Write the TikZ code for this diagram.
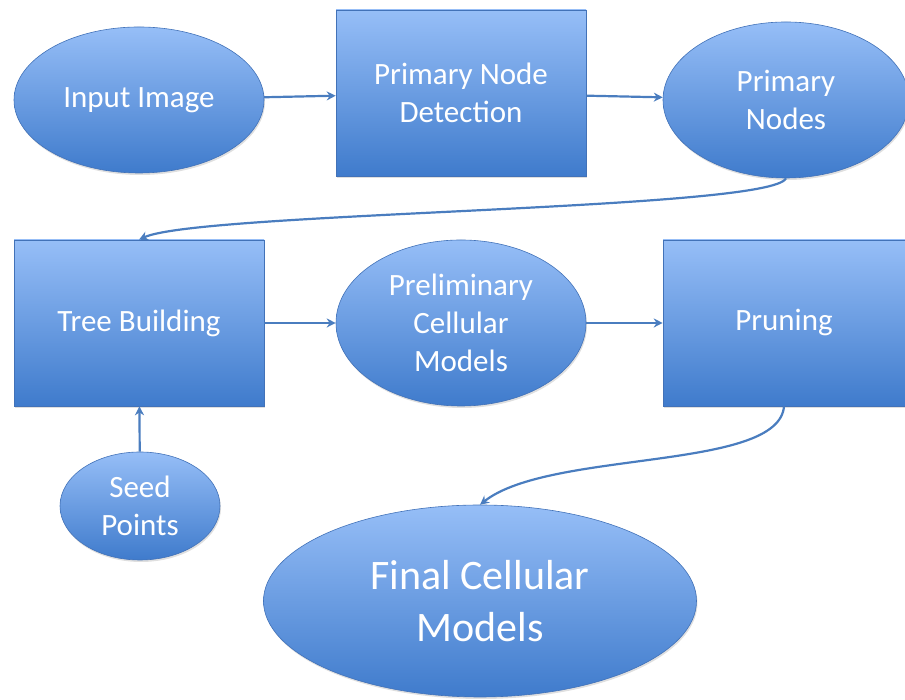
\documentclass[tikz,border=0pt]{standalone}
\usepackage{fontspec}
\setmainfont{Carlito}
\usepackage{xcolor}
\usepackage{tikz}
\usetikzlibrary{shapes.geometric, arrows.meta, positioning, shadows}
\definecolor{flowtop}{HTML}{96BEF7}
\definecolor{flowbottom}{HTML}{3F7BCC}
\definecolor{flowedge}{HTML}{4272B8}
\definecolor{arrowblue}{HTML}{4A7DBF}

\tikzset{
    flowbase/.style={draw=flowedge, line width=0.6pt, top color=flowtop, bottom color=flowbottom,
        text=white, align=center, inner sep=0pt, font=\fontsize{31}{38}\selectfont,
        drop shadow={opacity=0.25, shadow xshift=1pt, shadow yshift=-2pt}},
    procbox/.style={flowbase, rectangle, minimum width=250, minimum height=166},
    dataoval/.style={flowbase, ellipse, minimum width=250, minimum height=146},
    flowarrow/.style={-{Stealth[length=9pt, width=9pt]}, line width=2.2pt, arrowblue}
}

\begin{document}
\begin{tikzpicture}[x=1pt, y=1pt]
    \useasboundingbox (0, 0) rectangle (905, 700);

    % Top row
    \node[dataoval] (input) at (139, 600) {Input Image};
    \node[procbox] (detect) at (461, 607) {Primary Node\\Detection};
    \node[dataoval, minimum width=246, minimum height=156] (pnodes) at (786, 600) {Primary\\Nodes};

    % Middle row
    \node[procbox] (tree) at (139, 377) {Tree Building};
    \node[dataoval, minimum width=250, minimum height=166] (prelim) at (461, 377) {Preliminary\\Cellular\\Models};
    \node[procbox, minimum width=242] (prune) at (784, 377) {Pruning};

    % Bottom
    \node[dataoval, minimum width=160, minimum height=108] (seed) at (140, 194) {Seed\\Points};
    \node[dataoval, minimum width=433, minimum height=192, font=\fontsize{42}{52}\selectfont] (final) at (480, 99) {Final Cellular\\Models};

    % Arrows
    \draw[flowarrow] (input) -- (detect);
    \draw[flowarrow] (detect) -- (pnodes);
    \draw[flowarrow] (pnodes.south) .. controls +(-15, -32) and +(60, 28) .. (tree.north);
    \draw[flowarrow] (tree) -- (prelim);
    \draw[flowarrow] (prelim) -- (prune);
    \draw[flowarrow] (seed) -- (tree);
    \draw[flowarrow] (prune.south) .. controls +(-5, -65) and +(70, 55) .. (final.north);
\end{tikzpicture}
\end{document}
